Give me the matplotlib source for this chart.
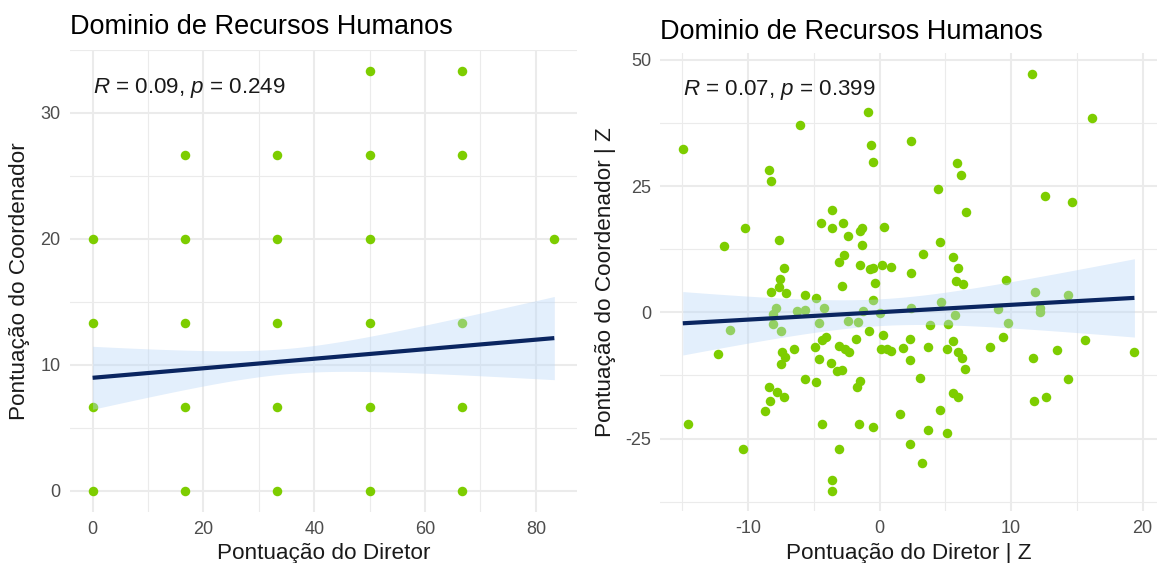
import numpy as np
import matplotlib
matplotlib.use("Agg")
import matplotlib.pyplot as plt

plt.rcParams["font.family"] = ["Liberation Sans", "DejaVu Sans"]
plt.rcParams["mathtext.fontset"] = "custom"
plt.rcParams["mathtext.rm"] = "Liberation Sans"
plt.rcParams["mathtext.it"] = "Liberation Sans:italic"
plt.rcParams["axes.unicode_minus"] = False

# ---------------- Data ----------------
title_text = "Dominio de Recursos Humanos"

# Raw scores (distinct positions on the 1/6 grid)
raw_diretor = [0, 0, 0, 0,
               16.67, 16.67, 16.67, 16.67, 16.67,
               33.33, 33.33, 33.33, 33.33, 33.33,
               50, 50, 50, 50, 50, 50,
               66.67, 66.67, 66.67, 66.67, 66.67,
               83.33]
raw_coord = [0, 6.67, 13.33, 20,
             0, 6.67, 13.33, 20, 26.67,
             0, 6.67, 13.33, 20, 26.67,
             0, 6.67, 13.33, 20, 26.67, 33.33,
             0, 6.67, 13.33, 26.67, 33.33,
             20]
# Linear fit summary for the raw scores (n = 166 observations)
raw_n = 166
raw_intercept = 8.98
raw_slope = 0.0378
raw_x_mean = 35.1
raw_x_sd = 15.4
raw_resid_sd = 6.53
raw_label = r"$R$ = 0.09, $p$ = 0.249"

# Z-scores
z_diretor = [-14.96, -6.08, -8.43, -8.24, -10.26, -11.85, -7.67, -7.29, -4.46, -3.62,
             -3.62, -0.84, -0.68, -0.49, 2.40, 5.87, 6.18, 4.48, 6.61, -2.77,
             -2.36, -1.30, -1.45, -1.37, 0.35, -2.71, -3.07, -1.50, -0.71, -0.46,
             0.17, 0.88, 3.31, 4.63, 5.57, 5.95, 2.38, 5.80, 6.38, 11.60,
             16.13, 12.56, 14.61, 9.65, -7.56, -7.67, -8.26, -7.10, -5.70, -4.84,
             -7.86, -8.11, -8.13, -7.48, -11.40, -6.28, -5.65, -4.26, -4.64, -12.31,
             -7.42, -7.17, -7.50, -6.54, -4.94, -4.38, -4.08, -4.64, -3.70, -5.70,
             -4.86, -8.39, -7.80, -7.29, -8.31, -8.72, -14.59, -4.38, -10.39, -3.62,
             -3.62, -2.86, -0.36, -0.53, -1.22, 0.05, -2.41, -1.60, 2.40, 4.68,
             5.74, 3.80, 5.24, -0.79, 0.23, -1.78, -3.12, -2.66, -2.31, 0.10,
             0.55, 0.88, 1.75, 2.30, 2.28, 3.65, 5.59, 5.14, 5.95, 6.25,
             6.51, 8.40, -3.24, -2.86, -1.45, -1.70, 3.09, 5.55, 6.00, 1.52,
             4.63, -1.55, -0.53, 3.65, 5.14, 2.28, 3.21, -3.12, 11.82, 14.36,
             9.04, 12.20, 12.20, 9.75, 9.35, 11.65, 13.53, 15.65, 19.38, 14.36,
             11.73, 12.66]
z_coord = [32.4, 37.0, 28.2, 25.9, 16.6, 13.2, 14.3, 8.7, 17.7, 20.2,
           16.7, 39.7, 33.2, 29.7, 34.0, 29.5, 27.1, 24.5, 19.8, 17.7,
           15.2, 16.7, 16.0, 13.3, 16.9, 11.3, 9.9, 9.3, 8.6, 8.8,
           9.4, 9.0, 11.5, 13.9, 10.9, 8.7, 7.7, 6.1, 5.6, 47.2,
           38.5, 23.0, 21.9, 6.4, 6.5, 5.1, 4.1, 3.9, 3.5, 2.9,
           0.8, -0.4, -2.4, -3.7, -3.6, 0.3, 0.5, 0.8, -2.2, -8.3,
           -7.8, -8.8, -10.3, -7.3, -6.9, -5.5, -4.9, -9.3, -10.1, -13.2,
           -13.8, -14.8, -15.7, -16.7, -17.5, -19.5, -22.2, -22.1, -27.1, -33.2,
           -35.3, 5.2, 5.9, 2.4, 0.3, -0.1, -1.7, -1.9, 0.8, 2.1,
           -0.5, -2.6, -2.4, -3.7, -4.5, -5.2, -6.7, -7.3, -7.9, -7.3,
           -7.3, -7.6, -7.0, -5.3, -9.4, -6.8, -5.7, -7.3, -7.8, -9.0,
           -11.3, -6.9, -11.6, -11.4, -13.7, -14.8, -13.1, -15.9, -16.7, -20.1,
           -19.3, -22.2, -22.7, -23.4, -23.9, -26.1, -29.8, -27.1, 4.1, 3.4,
           0.6, 0.8, 0.1, -2.1, -4.9, -9.0, -7.4, -5.5, -7.9, -13.2,
           -17.5, -16.7]
z_label = r"$R$ = 0.07, $p$ = 0.399"

# ---------------- Style ----------------
POINT_COLOR = "#7DCD00"
LINE_COLOR = "#0A2560"
BAND_COLOR = "#B9D7F8"
GRID_COLOR = "#EBEBEB"
TICK_COLOR = "#4D4D4D"
TEXT_COLOR = "#1a1a1a"
T_CRIT = 1.975

TITLE_SIZE = 19.5
AXIS_TITLE_SIZE = 16.2
TICK_SIZE = 13
LABEL_SIZE = 16.1

W, H = 1157, 563
fig = plt.figure(figsize=(W / 100, H / 100), dpi=100)


def px_axes(left, top, right, bottom):
    return fig.add_axes([left / W, (H - bottom) / H, (right - left) / W, (bottom - top) / H])


def expand(vals, frac=0.05):
    lo, hi = min(vals), max(vals)
    d = (hi - lo) * frac
    return lo - d, hi + d


def style_axes(ax, xmajor, xminor, ymajor, yminor):
    ax.set_facecolor("white")
    for s in ax.spines.values():
        s.set_visible(False)
    ax.set_xticks(xmajor)
    ax.set_xticks(xminor, minor=True)
    ax.set_yticks(ymajor)
    ax.set_yticks(yminor, minor=True)
    ax.grid(which="major", color=GRID_COLOR, lw=1.45)
    ax.grid(which="minor", color=GRID_COLOR, lw=0.8)
    ax.set_axisbelow(True)
    ax.tick_params(which="both", length=0, labelsize=TICK_SIZE, labelcolor=TICK_COLOR)
    ax.tick_params(axis="x", pad=6.5)
    ax.tick_params(axis="y", pad=6.5)


def draw_fit(ax, xs, intercept, slope, n, xm, sxx, s):
    xg = np.linspace(min(xs), max(xs), 200)
    yg = intercept + slope * xg
    half = T_CRIT * s * np.sqrt(1.0 / n + (xg - xm) ** 2 / sxx)
    ax.fill_between(xg, yg - half, yg + half, color=BAND_COLOR, alpha=0.4, lw=0, zorder=3)
    ax.plot(xg, yg, color=LINE_COLOR, lw=3.0, zorder=4, solid_capstyle="butt")


# ---------------- Left: raw scores ----------------
ax1 = px_axes(69.5, 49.8, 577.4, 512)
ax1.scatter(raw_diretor, raw_coord, s=47, color=POINT_COLOR, lw=0, zorder=2)
draw_fit(ax1, raw_diretor, raw_intercept, raw_slope, raw_n, raw_x_mean,
         (raw_n - 1) * raw_x_sd ** 2, raw_resid_sd)
ax1.set_xlim(expand(raw_diretor))
ax1.set_ylim(expand(raw_coord))
style_axes(ax1, [0, 20, 40, 60, 80], [10, 30, 50, 70], [0, 10, 20, 30], [5, 15, 25, 35])
ax1.text(0, 32.0, raw_label, fontsize=LABEL_SIZE, color=TEXT_COLOR, ha="left", va="center", zorder=5)
ax1.set_xlabel("Pontuação do Diretor", fontsize=AXIS_TITLE_SIZE, color=TEXT_COLOR, va="center")
ax1.xaxis.set_label_coords(0.5, (512 - 553) / (512 - 49.8))
ax1.set_ylabel("Pontuação do Coordenador", fontsize=AXIS_TITLE_SIZE, color=TEXT_COLOR, va="center")
ax1.yaxis.set_label_coords((20 - 69.5) / (577.4 - 69.5), 0.5)
ax1.text(0, (512 - 34) / (512 - 49.8), title_text, transform=ax1.transAxes,
         fontsize=TITLE_SIZE, color="black", ha="left", va="baseline")

# ---------------- Right: z-scores ----------------
zx = np.array(z_diretor)
zy = np.array(z_coord)
slope_z, icpt_z = np.polyfit(zx, zy, 1)
resid = zy - (icpt_z + slope_z * zx)
n_z = len(zx)
s_z = np.sqrt(np.sum(resid ** 2) / (n_z - 2))
sxx_z = np.sum((zx - zx.mean()) ** 2)

ax2 = px_axes(660.2, 53.1, 1157.0, 511.4)
ax2.scatter(zx, zy, s=47, color=POINT_COLOR, lw=0, zorder=2)
draw_fit(ax2, zx, icpt_z, slope_z, n_z, zx.mean(), sxx_z, s_z)
ax2.set_xlim(expand(z_diretor))
ax2.set_ylim(expand(z_coord))
style_axes(ax2, [-10, 0, 10, 20], [-15, -5, 5, 15], [-25, 0, 25, 50], [-37.5, -12.5, 12.5, 37.5])
ax2.text(min(z_diretor), 44.0, z_label, fontsize=LABEL_SIZE, color=TEXT_COLOR, ha="left", va="center", zorder=5)
ax2.set_xlabel("Pontuação do Diretor | Z", fontsize=AXIS_TITLE_SIZE, color=TEXT_COLOR, va="center")
ax2.xaxis.set_label_coords(0.5, (511.4 - 553) / (511.4 - 53.1))
ax2.set_ylabel("Pontuação do Coordenador | Z", fontsize=AXIS_TITLE_SIZE, color=TEXT_COLOR, va="center")
ax2.yaxis.set_label_coords((605 - 660.2) / (1157.0 - 660.2), 0.5)
ax2.text(0, (511.4 - 39) / (511.4 - 53.1), title_text, transform=ax2.transAxes,
         fontsize=TITLE_SIZE, color="black", ha="left", va="baseline")

fig.savefig("out.png", dpi=100, facecolor="white")
